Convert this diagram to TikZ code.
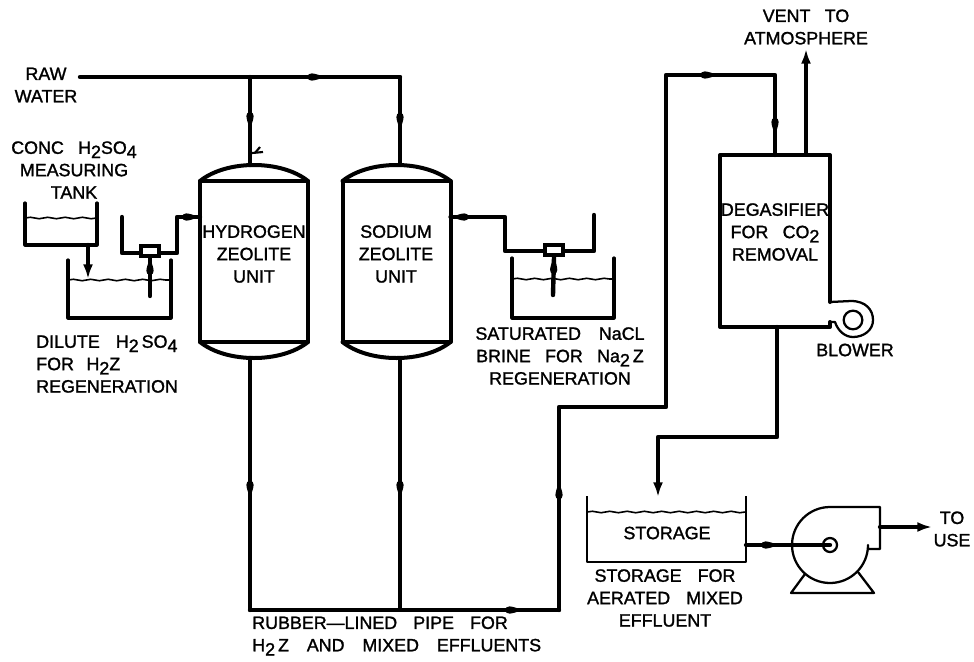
\documentclass[tikz,border=0pt]{standalone}
\usepackage{fontspec}
\setmainfont[FakeBold=1.4]{Liberation Sans}
\usetikzlibrary{arrows.meta,decorations.markings,decorations.pathmorphing}
\newcommand{\dn}[1]{\raisebox{-0.45ex}{#1}}
\tikzset{
  x=0.75pt,y=-0.75pt,
  pipe/.style={line width=3.3pt,line join=round,line cap=round},
  thinpipe/.style={line width=2.7pt,line join=round,line cap=round},
  wall/.style={line width=3pt,line join=round,line cap=round},
  tankwall/.style={line width=2.4pt,line join=round,line cap=round},
  fine/.style={line width=1.7pt,line join=round},
  level/.style={line width=1.2pt,decorate,decoration={snake,amplitude=.55pt,segment length=13pt}},
  tip/.style={postaction={decorate,decoration={markings,mark=at position #1 with {\fill (-5.5pt,0) .. controls (-5pt,3.6pt) and (-2pt,3.6pt) .. (7pt,0) .. controls (-2pt,-3.6pt) and (-5pt,-3.6pt) .. (-5.5pt,0) -- cycle;}}}},
  endtip/.style={-{Latex[length=11pt,width=7.5pt]}},
  label/.style={inner sep=0pt,font=\fontsize{13.4}{16.8}\selectfont,align=center},
  llabel/.style={label,align=left,anchor=west},
  vessel/.style={draw,wall,outer sep=0pt,minimum width=81pt,minimum height=120.75pt,inner sep=0pt},
  valvebox/.style={draw,line width=2.8pt,fill=white,minimum width=14pt,minimum height=8pt,inner sep=0pt},
}
\begin{document}
\begin{tikzpicture}
\useasboundingbox (0,0) rectangle (974,661);
% --- labels
\node[label] (raw) at (46,85) {RAW\\WATER};
\node[label] (conc) at (74,170) {CONC\hspace{.8em}H\dn{2}SO\dn{4}\\MEASURING\\TANK};
\node[llabel] (dilute) at (36,364) {DILUTE\hspace{.9em}H\dn{2}\,SO\dn{4}\\FOR\hspace{.7em}H\dn{2}Z\\REGENERATION};
\node[label] (hydl) at (254,254) {HYDROGEN\\ZEOLITE\\UNIT};
\node[label] (sodl) at (396,254) {SODIUM\\ZEOLITE\\UNIT};
\node[label] (brine) at (560,356) {SATURATED\hspace{1em}NaCL\\BRINE\hspace{.8em}FOR\hspace{.8em}Na\dn{2}\,Z\\REGENERATION};
\node[label] (degl) at (775,232) {DEGASIFIER\\FOR\hspace{.8em}CO\dn{2}\\REMOVAL};
\node[label] (blowl) at (855,350) {BLOWER};
\node[label] (vent) at (806,27) {VENT\hspace{.8em}TO\\ATMOSPHERE};
\node[label] (storl) at (667,533) {STORAGE};
\node[label] (storn) at (665,598) {STORAGE\hspace{.9em}FOR\\AERATED\hspace{.9em}MIXED\\EFFLUENT};
\node[label] (use) at (952,529) {TO\\USE};
\node[llabel] (rubber) at (252,636) {RUBBER---LINED\hspace{.9em}PIPE\hspace{.9em}FOR\\H\dn{2}\,Z\hspace{1em}AND\hspace{1em}MIXED\hspace{1em}EFFLUENTS};
% --- vessels
\node[vessel] (hyd) at (254,261.5) {};
\node[vessel] (sod) at (396.5,261.5) {};
\foreach \v in {hyd,sod}{
  \draw[wall] (\v.north west) .. controls ([xshift=20pt,yshift=16pt]\v.north west) and ([xshift=-20pt,yshift=16pt]\v.north east) .. (\v.north east);
  \draw[wall] (\v.south west) .. controls ([xshift=20pt,yshift=-16pt]\v.south west) and ([xshift=-20pt,yshift=-16pt]\v.south east) .. (\v.south east);
}
\coordinate (hydtop) at (250,165);
\coordinate (sodtop) at (400,165);
\coordinate (hydbot) at (250,358);
\coordinate (sodbot) at (400,358);
% --- raw water
\coordinate (rawstart) at (80,77);
\coordinate (rawmid) at (250,77);
\coordinate (rawend) at (400,77);
\draw[pipe,tip=0.734] (rawstart) -- (rawend);
\draw[pipe,tip=0.48] (rawmid) -- (hydtop);
\draw[thinpipe,tip=0.49] (rawend) -- (sodtop);
\coordinate (chk) at (252,153);
\draw[line width=1.6pt] (chk) -- ++(11,-1);
\draw[line width=1.6pt] (260,147) -- (255,153);
% --- effluent
\coordinate (botl) at (250,610);
\coordinate (botr) at (400,610);
\coordinate (riser) at (559,610);
\draw[pipe,tip=0.516] (hydbot) -- (botl);
\draw[thinpipe,tip=0.516] (sodbot) -- (botr);
\draw[pipe,tip=0.85] (botl) -- (riser);
\coordinate (degin) at (775,155);
\draw[pipe,tip=0.142,tip=0.823,tip=0.964] (riser) |- (666,407) |- (775,75) -- (degin);
% --- degasifier and blower
\coordinate (d1) at (830,302);
\coordinate (d2) at (830,155);
\coordinate (d3) at (720,155);
\coordinate (d4) at (720,327);
\coordinate (d5) at (830,327);
\coordinate (d6) at (830,322);
\draw[wall] (d1) -- (d2) -- (d3) -- (d4) -- (d5) -- (d6);
\draw[fine] (d1) -- (851,301) .. controls (866,301) and (873,310) .. (873,320) .. controls (873,330) and (864,337) .. (853,337) .. controls (845,337) and (838,331) .. (835,322) -- (d6);
\node[draw,line width=1.7pt,circle,minimum size=14pt,inner sep=0pt] (blower) at (853,320) {};
\coordinate (ventb) at (806,155);
\coordinate (ventt) at (806,49);
\draw[thinpipe,endtip] (ventb) -- (ventt);
\coordinate (degout) at (777,327);
\coordinate (stin) at (658,497);
\draw[pipe,endtip] (degout) |- (658,437) -- (stin);
% --- storage
\coordinate (stl) at (587,496);
\coordinate (str) at (746,496);
\coordinate (stbr) at (746,562);
\draw[fine] (stl) |- (stbr) -- (str);
\draw[level] (587,512) -- (746,512);
% --- pump
\node[draw,line width=1.7pt,circle,minimum size=10.5pt,inner sep=0pt] (imp) at (830,545) {};
\draw[fine] (830,507) -- (880,507) -- (880,549) -- (868,549) -- (868,545)
  .. controls (868,566) and (851,583) .. (830,583)
  .. controls (809,583) and (792,566) .. (792,545)
  .. controls (792,524) and (809,507) .. (830,507);
\draw[fine] (805,574) -- (791,593) -- (874,593) -- (858,572);
\coordinate (suct) at (746,545);
\draw[pipe,tip=0.27] (suct) -- (imp.center);
\coordinate (pout) at (880,527);
\coordinate (pend) at (932,527);
\draw[pipe,endtip] (pout) -- (pend);
% --- measuring tank
\draw[tankwall] (25,203) |- (97,245) -- (97,203);
\draw[level] (25,218) -- (97,218);
\coordinate (mout) at (88,245);
\coordinate (min) at (88,279);
\draw[pipe,endtip] (mout) -- (min);
% --- dilute tank
\draw[tankwall] (68,260) |- (171,318) -- (171,260);
\draw[level] (68,280) -- (171,280);
% --- left ejector
\coordinate (ej1) at (122,217);
\coordinate (ej2) at (177,217);
\draw[pipe,tip=0.93] (ej1) |- (177,253) -- (ej2) -- (hyd.west |- ej2);
\node[valvebox] (lv) at (150,251) {};
\coordinate (ldip) at (150,296);
\draw[pipe,tip=0.75] (ldip) -- (lv.south);
% --- right tank
\draw[tankwall] (512,258) |- (614,318) -- (614,258);
\draw[level] (512,279) -- (614,279);
\coordinate (br1) at (594,215);
\draw[pipe,tip=0.95] (br1) |- (505,251) |- (sod.east |- 0,217);
\node[valvebox] (rv) at (554,250) {};
\coordinate (rdip) at (553,295);
\draw[pipe,tip=0.75] (rdip) -- (rv.south);
\end{tikzpicture}
\end{document}
